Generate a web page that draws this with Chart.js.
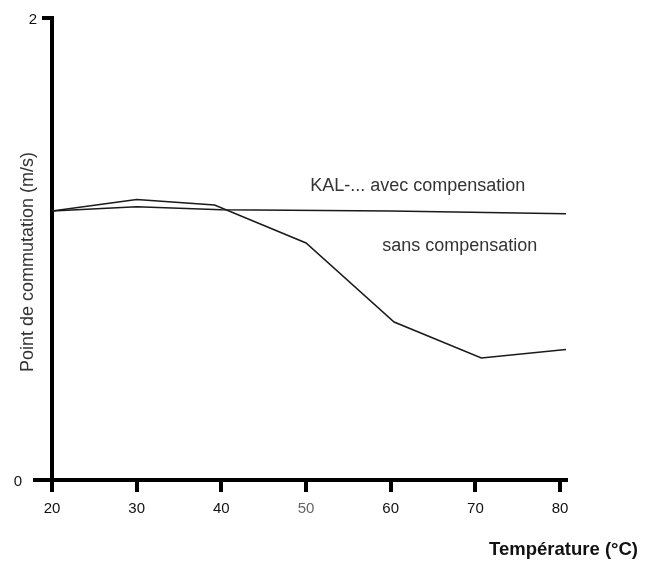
<!DOCTYPE html>
<html><head><meta charset="utf-8">
<script src="https://cdn.jsdelivr.net/npm/chart.js@4/dist/chart.umd.min.js"></script>
<style>html,body{margin:0;padding:0;background:#fff}#wrap{width:646px;height:564px}</style>
</head><body><div id="wrap"><canvas id="c" width="646" height="564"></canvas></div>
<script>
// ---- data ----
const xTickValues = [20, 30, 40, 50, 60, 70, 80];
const yTickValues = [0, 2];
const sansTemps  = [20, 30, 39.2, 50, 60.4, 70.7, 80.7];
const sansValues = [1.165, 1.214, 1.19, 1.026, 0.684, 0.528, 0.565];
const avecTemps  = [20, 30, 40, 60, 80.7];
const avecValues = [1.165, 1.183, 1.17, 1.165, 1.153];
const xTitle = 'Température (°C)';
const yTitle = 'Point de commutation (m/s)';
const avecLabel = 'KAL-... avec compensation';
const sansLabel = 'sans compensation';

const FONT = '"Liberation Sans", Arial, sans-serif';
const toPts = (xs, ys) => xs.map((x, i) => ({ x: x, y: ys[i] }));

const textPlugin = {
  id: 'texts',
  afterDraw(chart) {
    const ctx = chart.ctx, xs = chart.scales.x, ys = chart.scales.y, a = chart.chartArea;
    ctx.save();
    // extension of the x axis line to the left (long 0 tick)
    ctx.strokeStyle = '#000'; ctx.lineWidth = 4;
    const y0 = ys.getPixelForValue(0);
    ctx.beginPath(); ctx.moveTo(a.left - 19, y0); ctx.lineTo(a.left, y0); ctx.stroke();
    // y tick labels (0 sits left of the longer axis stub)
    ctx.fillStyle = '#111';
    ctx.font = '15px ' + FONT;
    ctx.textAlign = 'right'; ctx.textBaseline = 'middle';
    yTickValues.forEach(v => {
      const off = v === 0 ? 30 : 15;
      ctx.fillText(String(v), a.left - off, ys.getPixelForValue(v) + 2);
    });
    // y title
    ctx.fillStyle = '#333';
    ctx.font = '18px ' + FONT;
    ctx.textAlign = 'center'; ctx.textBaseline = 'middle';
    ctx.save(); ctx.translate(28, 262); ctx.rotate(-Math.PI / 2); ctx.fillText(yTitle, 0, 0); ctx.restore();
    // annotations
    ctx.font = '18px ' + FONT;
    ctx.textAlign = 'left';
    ctx.fillText(avecLabel, xs.getPixelForValue(50.5), ys.getPixelForValue(1.273));
    ctx.fillText(sansLabel, xs.getPixelForValue(59.0), ys.getPixelForValue(1.013));
    // x title
    ctx.fillStyle = '#111';
    ctx.font = 'bold 18.5px ' + FONT;
    ctx.textAlign = 'right';
    ctx.fillText(xTitle, 638, 550);
    ctx.restore();
  }
};

new Chart(document.getElementById('c'), {
  type: 'line',
  data: {
    datasets: [
      { label: 'avec compensation', data: toPts(avecTemps, avecValues), borderColor: '#1a1a1a', borderWidth: 1.5, pointRadius: 0, tension: 0, fill: false },
      { label: 'sans compensation', data: toPts(sansTemps, sansValues), borderColor: '#1a1a1a', borderWidth: 1.5, pointRadius: 0, tension: 0, fill: false }
    ]
  },
  options: {
    responsive: false,
    devicePixelRatio: 1,
    animation: false,
    layout: { padding: { top: 18, right: 80, left: 0, bottom: 0 } },
    plugins: { legend: { display: false }, tooltip: { enabled: false } },
    scales: {
      x: {
        type: 'linear', min: 20, max: 80.7,
        afterBuildTicks: s => { s.ticks = xTickValues.map(v => ({ value: v })); },
        afterFit: s => { s.height = 84; },
        ticks: {
          autoSkip: false, maxRotation: 0, padding: 8,
          font: { family: FONT, size: 15 },
          color: c => (c.tick && c.tick.value === 50) ? '#666' : '#111'
        },
        grid: { drawOnChartArea: false, drawTicks: true, tickLength: 12, lineWidth: 4, color: '#000' },
        border: { display: true, width: 4, color: '#000' }
      },
      y: {
        min: 0, max: 2,
        afterBuildTicks: s => { s.ticks = yTickValues.map(v => ({ value: v })); },
        afterFit: s => { s.width = 52; },
        ticks: { display: false },
        grid: { drawOnChartArea: false, drawTicks: true, tickLength: 10, lineWidth: 4, color: '#000' },
        border: { display: true, width: 4, color: '#000' }
      }
    }
  },
  plugins: [textPlugin]
});
</script></body></html>
